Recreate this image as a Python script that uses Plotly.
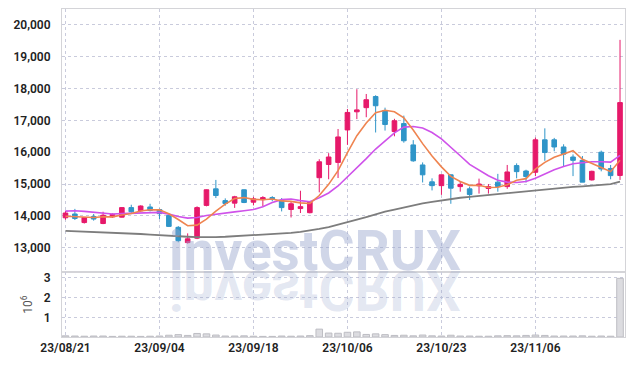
import plotly.graph_objects as go

dates = ["23/08/21", "23/08/22", "23/08/23", "23/08/24", "23/08/25", "23/08/28", "23/08/29", "23/08/30", "23/08/31", "23/09/01",
         "23/09/04", "23/09/05", "23/09/06", "23/09/07", "23/09/08", "23/09/11", "23/09/12", "23/09/13", "23/09/14", "23/09/15",
         "23/09/18", "23/09/19", "23/09/20", "23/09/21", "23/09/22", "23/09/25", "23/09/26", "23/09/27", "23/10/04", "23/10/05",
         "23/10/06", "23/10/10", "23/10/11", "23/10/12", "23/10/13", "23/10/16", "23/10/17", "23/10/18", "23/10/19", "23/10/20",
         "23/10/23", "23/10/24", "23/10/25", "23/10/26", "23/10/27", "23/10/30", "23/10/31", "23/11/01", "23/11/02", "23/11/03",
         "23/11/06", "23/11/07", "23/11/08", "23/11/09", "23/11/10", "23/11/13", "23/11/14", "23/11/15", "23/11/16", "23/11/17"]

open_ = [13940, 14060, 13790, 13980, 13760, 13970, 13960, 14260, 14160, 14280,
         14200, 14010, 13640, 13160, 13300, 14330, 14850, 14480, 14400, 14820,
         14430, 14510, 14575, 14480, 14200, 14230, 14100, 15200, 15615, 15680,
         16700, 17270, 17400, 17750, 17310, 16650, 16900, 16230, 15600, 15070,
         14950, 15290, 14920, 14850, 14945, 14860, 15060, 14920, 15580, 15410,
         15370, 16390, 16390, 16165, 15850, 15745, 15130, 16000, 15490, 15270]
high = [14160, 14220, 13960, 14060, 14130, 14080, 14270, 14350, 14330, 14380,
        14230, 14050, 13680, 13450, 14300, 14830, 15130, 14550, 14630, 14830,
        14600, 14620, 14620, 14560, 14450, 14790, 14470, 15780, 15970, 16730,
        17360, 17980, 17830, 17790, 17400, 17050, 17150, 16380, 15680, 15180,
        15300, 15300, 15090, 14920, 15170, 15000, 15320, 15600, 15650, 15450,
        16460, 16750, 16450, 16250, 15930, 15880, 15420, 16050, 15600, 19530]
low = [13880, 13870, 13760, 13850, 13740, 13940, 13950, 14070, 14130, 14140,
       13900, 13650, 13170, 13130, 13270, 14300, 14560, 14320, 14250, 14400,
       14330, 14300, 14460, 14140, 13950, 14090, 14080, 14740, 15150, 15190,
       16230, 17040, 17100, 16620, 16680, 16500, 16300, 15700, 15050, 14800,
       14660, 14380, 14760, 14500, 14700, 14700, 14760, 14850, 15180, 15050,
       15250, 15730, 16030, 15550, 15250, 15060, 15110, 15400, 15150, 15130]
close = [14090, 13920, 13950, 13900, 14020, 14050, 14260, 14130, 14310, 14170,
         14070, 13670, 13220, 13280, 14260, 14820, 14640, 14390, 14600, 14420,
         14535, 14575, 14540, 14260, 14380, 14290, 14430, 15700, 15850, 16480,
         17250, 17330, 17650, 17460, 16870, 16990, 16360, 15730, 15290, 14950,
         15290, 14870, 14990, 14670, 15000, 14920, 14920, 15380, 15390, 15235,
         16390, 15990, 16165, 15940, 15745, 15060, 15400, 15475, 15265, 17560]

ma5 = [13990, 13970, 13955, 13950, 13975, 13968, 14030, 14075, 14155, 14190,
       14190, 14065, 13885, 13690, 13710, 13900, 14150, 14370, 14545, 14575,
       14520, 14505, 14530, 14470, 14455, 14410, 14390, 14640, 14990, 15420,
       15990, 16520, 16920, 17240, 17320, 17270, 17080, 16700, 16270, 15880,
       15540, 15240, 15080, 14960, 14960, 14890, 14900, 14980, 15120, 15170,
       15470, 15680, 15840, 15950, 16050, 15780, 15660, 15520, 15390, 15750]
ma10 = [14150, 14160, 14140, 14110, 14075, 14060, 14070, 14080, 14095, 14110,
        14110, 14055, 13980, 13930, 13950, 14010, 14055, 14090, 14125, 14160,
        14200, 14290, 14420, 14510, 14530, 14480, 14445, 14570, 14720, 14940,
        15220, 15500, 15800, 16100, 16340, 16610, 16790, 16810, 16760, 16620,
        16420, 16170, 15890, 15620, 15440, 15260, 15120, 15060, 15050, 15080,
        15180, 15320, 15450, 15550, 15640, 15670, 15700, 15700, 15690, 15900]
ma_long = [13530, 13520, 13510, 13500, 13490, 13475, 13460, 13445, 13430, 13410,
           13390, 13375, 13360, 13345, 13335, 13330, 13335, 13345, 13360, 13375,
           13390, 13405, 13420, 13440, 13465, 13500, 13540, 13590, 13650, 13720,
           13800, 13880, 13960, 14050, 14130, 14200, 14270, 14330, 14390, 14440,
           14490, 14530, 14570, 14600, 14630, 14660, 14690, 14720, 14750, 14780,
           14810, 14840, 14870, 14890, 14910, 14930, 14950, 14970, 15000, 15080]

volume_m = [0.06, 0.05, 0.04, 0.05, 0.05, 0.03, 0.04, 0.04, 0.03, 0.04,
            0.05, 0.09, 0.12, 0.08, 0.18, 0.16, 0.10, 0.05, 0.05, 0.06,
            0.04, 0.03, 0.03, 0.05, 0.04, 0.05, 0.07, 0.40, 0.20, 0.19,
            0.24, 0.26, 0.13, 0.16, 0.12, 0.08, 0.09, 0.06, 0.10, 0.06,
            0.05, 0.09, 0.05, 0.05, 0.04, 0.04, 0.06, 0.07, 0.06, 0.08,
            0.10, 0.08, 0.05, 0.05, 0.05, 0.06, 0.04, 0.05, 0.04, 2.98]

tick_dates = ["23/08/21", "23/09/04", "23/09/18", "23/10/06", "23/10/23", "23/11/06"]
price_ticks = [13000, 14000, 15000, 16000, 17000, 18000, 19000, 20000]
vol_ticks = [1, 2, 3]

PINK = "#e6196a"
BLUE = "#2f95c8"
GRID = "#c9cbdc"
FRAME = "#d4d4d8"
FONT = "Roboto"
TICKFONT = dict(family=FONT, size=12, color="#222222", weight=600)

fig = go.Figure()

fig.add_trace(go.Bar(
    x=dates, y=volume_m, xaxis="x", yaxis="y2",
    marker=dict(color="#dcdce0", line=dict(color="#bdbdc3", width=1)),
    hoverinfo="skip", showlegend=False,
))

fig.add_trace(go.Scatter(x=dates, y=ma_long, mode="lines", line=dict(color="#7d7d7d", width=1.8),
                         xaxis="x", yaxis="y", showlegend=False, hoverinfo="skip"))
fig.add_trace(go.Scatter(x=dates, y=ma10, mode="lines", line=dict(color="#cf52ea", width=1.6),
                         xaxis="x", yaxis="y", showlegend=False, hoverinfo="skip"))
fig.add_trace(go.Scatter(x=dates, y=ma5, mode="lines", line=dict(color="#ef8450", width=1.6),
                         xaxis="x", yaxis="y", showlegend=False, hoverinfo="skip"))

fig.add_trace(go.Candlestick(
    x=dates, open=open_, high=high, low=low, close=close,
    xaxis="x", yaxis="y",
    increasing=dict(line=dict(color=PINK, width=1), fillcolor=PINK),
    decreasing=dict(line=dict(color=BLUE, width=1), fillcolor=BLUE),
    whiskerwidth=0, showlegend=False,
))

fig.update_layout(
    width=634, height=366,
    margin=dict(l=62, r=9, t=9, b=29, autoexpand=False),
    paper_bgcolor="white", plot_bgcolor="white",
    showlegend=False,
    bargap=0.3,
    font=dict(family=FONT, size=12, color="#2a2a2a"),
    xaxis=dict(
        type="category", anchor="y2", domain=[0, 1],
        range=[-0.37, 59.53], automargin=False,
        tickmode="array", tickvals=tick_dates, ticktext=tick_dates,
        showgrid=True, gridcolor=GRID, griddash="dot", gridwidth=1,
        showline=True, linecolor=FRAME, linewidth=1, mirror="all",
        ticks="", rangeslider=dict(visible=False),
        tickfont=TICKFONT,
        zeroline=False,
    ),
    yaxis=dict(
        domain=[0.198, 1], range=[12235, 20500], automargin=False,
        tickmode="array", tickvals=price_ticks, tickformat=",d",
        showgrid=True, gridcolor=GRID, griddash="dot", gridwidth=1,
        showline=True, linecolor=FRAME, linewidth=1, mirror=True,
        ticks="outside", ticklen=8, tickcolor="rgba(0,0,0,0)",
        tickfont=TICKFONT,
        zeroline=False,
    ),
    yaxis2=dict(
        domain=[0, 0.198], range=[0, 3.3], automargin=False,
        tickmode="array", tickvals=vol_ticks,
        showgrid=True, gridcolor=GRID, griddash="dot", gridwidth=1,
        showline=True, linecolor=FRAME, linewidth=1, mirror=True,
        ticks="outside", ticklen=8, tickcolor="rgba(0,0,0,0)",
        tickfont=TICKFONT,
        title=dict(text="10<sup>6</sup>", font=dict(family=FONT, size=12, color="#555555"), standoff=8),
        zeroline=False,
    ),
    annotations=[dict(
        text="investCRUX", xref="paper", yref="paper",
        x=0.449, y=0.262, xanchor="center", yanchor="middle", showarrow=False,
        font=dict(family=FONT, size=55, color="rgba(150,165,205,0.45)", weight="bold"),
    )],
)

post = """
document.body.style.margin = '0';
document.body.style.padding = '0';
document.body.style.overflow = 'hidden';
var gd = document.getElementById('{plot_id}');
var t = gd.querySelector('.annotation-text');
if (t) {
  var bb = t.getBBox();
  var base = bb.y + bb.height * 0.79 + 1;
  var c = t.cloneNode(true);
  var prev = t.getAttribute('transform') || '';
  c.setAttribute('transform', prev + ' matrix(1 0 0 -1 0 ' + (2 * base) + ')');
  c.style.fill = 'rgb(150,165,205)';
  c.style.fillOpacity = '0.27';
  t.parentNode.insertBefore(c, t);
}
"""

fig.write_html("out.html", post_script=post, config={"displayModeBar": False})
